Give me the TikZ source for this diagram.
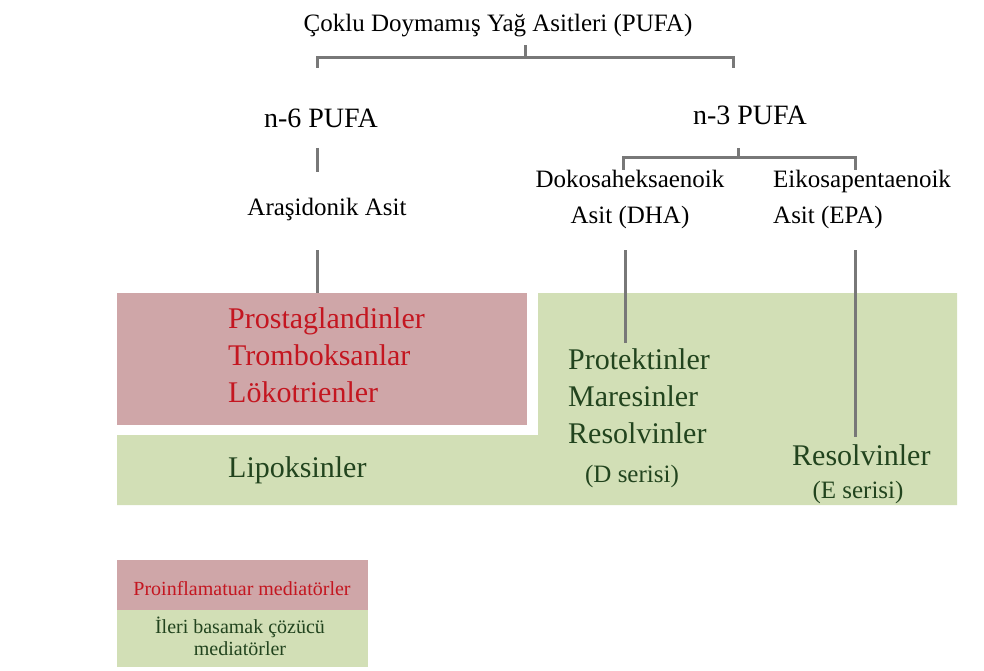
\documentclass[tikz,border=0pt]{standalone}
\usepackage{fontspec}
\setmainfont{Liberation Serif}

\definecolor{proinf}{RGB}{207,166,168}
\definecolor{resolv}{RGB}{210,223,182}
\definecolor{redtxt}{RGB}{196,22,32}
\definecolor{greentxt}{RGB}{34,68,30}
\definecolor{linegray}{RGB}{120,120,120}

\begin{document}
\begin{tikzpicture}[x=1pt,y=-1pt,
        link/.style={draw=linegray, line width=3pt},
        big/.style={font=\fontsize{30}{37}\selectfont, inner sep=0pt},
        mid/.style={font=\fontsize{25}{36}\selectfont, inner sep=0pt},
        small/.style={font=\fontsize{20}{22}\selectfont, inner sep=0pt}]
        \useasboundingbox (0,0) rectangle (984,671);

        % coloured fields
        \fill[proinf](117,293)rectangle(527,425);
        \fill[resolv](538,293)--(957,293)--(957,505)--(117,505)--(117,435)--(538,435)--cycle;

        % headings
        \node[mid, anchor=base](pufa)at(498,32){Çoklu Doymamış Yağ Asitleri (PUFA)};
        \node[mid, font=\fontsize{28}{34}\selectfont, anchor=base](n6)at(321,128){n-6 PUFA};
        \node[mid, font=\fontsize{28}{34}\selectfont, anchor=base](n3)at(750,125){n-3 PUFA};
        \node[mid, anchor=base](aa)at(327,215){Araşidonik Asit};
        \node[mid, align=center, anchor=base](dha)at(630,223){Dokosaheksaenoik\\Asit (DHA)};
        \node[mid, align=left, anchor=base west](epa)at(773,223){Eikosapentaenoik\\Asit (EPA)};

        % mediators
        \node[big, text=redtxt, align=left, anchor=base west](pro)at(228,402){Prostaglandinler\\Tromboksanlar\\Lökotrienler};
        \node[big, text=greentxt, anchor=base west](lipo)at(228,477){Lipoksinler};
        \node[big, text=greentxt, align=left, anchor=base west](dser)at(568,443){Protektinler\\Maresinler\\Resolvinler};
        \node[mid, text=greentxt, anchor=base](dlab)at(632,482){(D serisi)};
        \node[big, text=greentxt, anchor=base west](eser)at(792,465){Resolvinler};
        \node[mid, text=greentxt, anchor=base](elab)at(858,498){(E serisi)};

        % brackets and stems
        \coordinate(t6)at(317,68);
        \coordinate(t3)at(733,68);
        \draw[link](t6)--(317,58)--(733,58)--(t3);
        \draw[link](525,58)--(525,45);
        \coordinate(d3)at(623,170);
        \coordinate(e3)at(855,170);
        \draw[link](d3)--(623,158)--(855,158)--(e3);
        \draw[link](738,158)--(738,148);
        \draw[link](317,148)--(317,172);
        \draw[link](317,250)--(317,293);
        \draw[link](625,250)--(625,343);
        \draw[link](855,250)--(855,437);

        % legend
        \fill[proinf](117,560)rectangle(368,610);
        \fill[resolv](117,610)rectangle(368,667);
        \node[small, text=redtxt, anchor=base](leg1)at(242,595){Proinflamatuar mediatörler};
        \node[small, text=greentxt, align=center, anchor=base](leg2)at(240,655){İleri basamak çözücü\\mediatörler};
    \end{tikzpicture}
\end{document}
